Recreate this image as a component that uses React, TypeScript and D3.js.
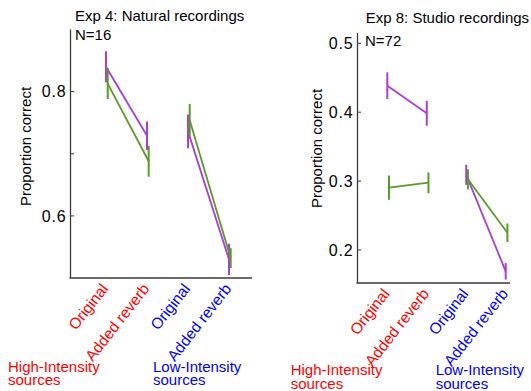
import React from "react";
import * as d3 from "d3";

// ---------- data ----------
const conditions = ["High-Original", "High-Reverb", "Low-Original", "Low-Reverb"];
const conditionLabels = ["Original", "Added reverb", "Original", "Added reverb"];
const conditionGroups = ["High", "High", "Low", "Low"];
const groupNames = ["High", "Low"];
const groupLabels = [["High-Intensity", "sources"], ["Low-Intensity", "sources"]];

const exp4Purple = [0.84, 0.729, 0.736, 0.53];
const exp4PurpleErr = [0.025, 0.023, 0.027, 0.025];
const exp4Green = [0.813, 0.688, 0.754, 0.532];
const exp4GreenErr = [0.025, 0.025, 0.026, 0.016];

const exp8Purple = [0.4385, 0.3984, 0.309, 0.169];
const exp8PurpleErr = [0.0194, 0.018, 0.0145, 0.012];
const exp8Green = [0.2905, 0.2976, 0.3026, 0.225];
const exp8GreenErr = [0.0177, 0.0152, 0.0145, 0.0135];

const exp4Ticks = [0.6, 0.7, 0.8];
const exp4TickLabels = ["0.6", "", "0.8"];
const exp8Ticks = [0.2, 0.3, 0.4, 0.5];
const exp8TickLabels = ["0.2", "0.3", "0.4", "0.5"];

// ---------- styles ----------
const PURPLE = "#a93fd1";
const GREEN = "#5a9a2a";
const GROUP_COLORS: Record<string, string> = { High: "#ff0000", Low: "#0000ff" };
const FONT = "'Liberation Sans', Arial, Helvetica, sans-serif";
const AXIS = "#3a3a3a";

type Series = { values: number[]; errs: number[]; color: string; dx: number };

type PanelProps = {
  title: string;
  n: string;
  titleX: number;
  titleY: number;
  nX: number;
  nY: number;
  axisX: number;
  axisTop: number;
  axisBottom: number;
  axisRight: number;
  yDomain: [number, number];
  xRange: [number, number];
  ticks: number[];
  tickLabels: string[];
  series: Series[];
  yLabelX: number;
  yLabelY: number;
  groupLabelX: number[];
  groupLabelY: number;
};

function Panel(p: PanelProps) {
  const y = d3.scaleLinear().domain(p.yDomain).range([p.axisBottom, p.axisTop]);
  const x = d3.scalePoint<string>().domain(conditions).range(p.xRange);
  const line = d3
    .line<[number, number]>()
    .x((d) => d[0])
    .y((d) => d[1]);

  return (
    <g>
      <text x={p.titleX} y={p.titleY} fontSize={15} fontFamily={FONT} fill="#000">
        {p.title}
      </text>
      <text x={p.nX} y={p.nY} fontSize={15} fontFamily={FONT} fill="#000">
        {p.n}
      </text>
      {/* axes */}
      <line x1={p.axisX} x2={p.axisX} y1={p.axisTop} y2={p.axisBottom} stroke={AXIS} strokeWidth={1.3} />
      <line x1={p.axisX - 1} x2={p.axisRight} y1={p.axisBottom} y2={p.axisBottom} stroke={AXIS} strokeWidth={1.6} />
      {p.ticks.map((t, i) => (
        <g key={i}>
          <line x1={p.axisX} x2={p.axisX + 3.5} y1={y(t)} y2={y(t)} stroke={AXIS} strokeWidth={1} />
          <text
            x={p.axisX - 4}
            y={y(t)}
            dy="0.36em"
            textAnchor="end"
            fontSize={16}
            letterSpacing={0.8}
            fontFamily={FONT}
            fill="#000"
          >
            {p.tickLabels[i]}
          </text>
        </g>
      ))}
      <text
        transform={`translate(${p.yLabelX},${p.yLabelY}) rotate(-90)`}
        textAnchor="middle"
        fontSize={15}
        fontFamily={FONT}
        fill="#000"
      >
        Proportion correct
      </text>
      {/* data */}
      {p.series.map((s, si) => (
        <g key={si}>
          {groupNames.map((g) => {
            const idx = conditions.map((_, i) => i).filter((i) => conditionGroups[i] === g);
            const pts: [number, number][] = idx.map((i) => [x(conditions[i])! + s.dx, y(s.values[i])]);
            return <path key={g} d={line(pts) ?? ""} fill="none" stroke={s.color} strokeWidth={1.8} />;
          })}
          {conditions.map((c, i) => (
            <line
              key={c}
              x1={x(c)! + s.dx}
              x2={x(c)! + s.dx}
              y1={y(s.values[i] - s.errs[i])}
              y2={y(s.values[i] + s.errs[i])}
              stroke={s.color}
              strokeWidth={2}
            />
          ))}
        </g>
      ))}
      {/* category labels */}
      {conditions.map((c, i) => (
        <text
          key={c}
          transform={`translate(${x(c)! + 3},${p.axisBottom + 11}) rotate(-52)`}
          textAnchor="end"
          fontSize={15.5}
          fontFamily={FONT}
          fill={GROUP_COLORS[conditionGroups[i]]}
        >
          {conditionLabels[i]}
        </text>
      ))}
      {groupNames.map((g, gi) => (
        <text key={g} x={p.groupLabelX[gi]} y={p.groupLabelY - 0.5} fontSize={15} fontFamily={FONT} fill={GROUP_COLORS[g]}>
          <tspan x={p.groupLabelX[gi]}>{groupLabels[gi][0]}</tspan>
          <tspan x={p.groupLabelX[gi]} dy={13.5}>
            {groupLabels[gi][1]}
          </tspan>
        </text>
      ))}
    </g>
  );
}

export default function App() {
  return (
    <svg
      width={531}
      height={391}
      viewBox="0 0 531 391"
      style={{ position: "absolute", left: 0, top: 0, background: "#fff" }}
    >
      <rect width={531} height={391} fill="#fff" />
      <Panel
        title="Exp 4: Natural recordings"
        n="N=16"
        titleX={75}
        titleY={20.7}
        nX={75}
        nY={40}
        axisX={70.5}
        axisTop={29.5}
        axisBottom={278}
        axisRight={252}
        yDomain={[0.5, 0.9]}
        xRange={[106, 229]}
        ticks={exp4Ticks}
        tickLabels={exp4TickLabels}
        series={[
          { values: exp4Purple, errs: exp4PurpleErr, color: PURPLE, dx: 0 },
          { values: exp4Green, errs: exp4GreenErr, color: GREEN, dx: 1.7 },
        ]}
        yLabelX={31}
        yLabelY={146.5}
        groupLabelX={[8, 153]}
        groupLabelY={372}
      />
      <Panel
        title="Exp 8: Studio recordings"
        n="N=72"
        titleX={365.7}
        titleY={22.7}
        nX={365}
        nY={45.5}
        axisX={357.5}
        axisTop={33}
        axisBottom={283}
        axisRight={510}
        yDomain={[0.152, 0.515]}
        xRange={[387.3, 505.7]}
        ticks={exp8Ticks}
        tickLabels={exp8TickLabels}
        series={[
          { values: exp8Purple, errs: exp8PurpleErr, color: PURPLE, dx: 0 },
          { values: exp8Green, errs: exp8GreenErr, color: GREEN, dx: 1.7 },
        ]}
        yLabelX={322}
        yLabelY={148.5}
        groupLabelX={[290.7, 435.7]}
        groupLabelY={375.7}
      />
    </svg>
  );
}
